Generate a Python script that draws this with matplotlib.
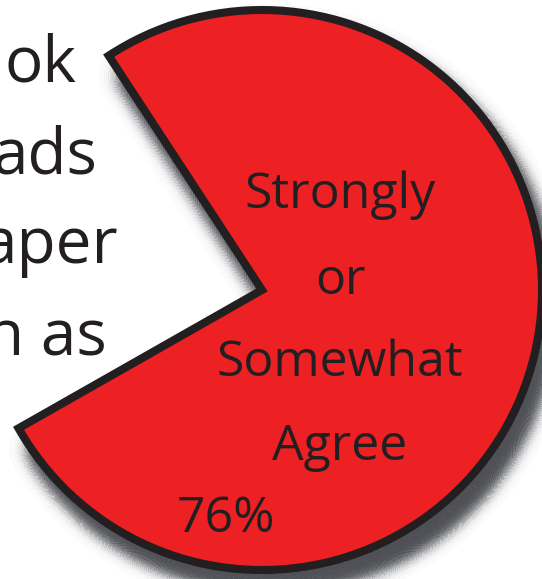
import numpy as np
import matplotlib
matplotlib.use("Agg")
import matplotlib.pyplot as plt

# ---- data ----
agree_pct = 76
slice_label_lines = ["Strongly", "or", "Somewhat", "Agree"]
pct_label = f"{agree_pct}%"
side_text_lines = ["ok", "ads", "aper", "n as"]

# ---- style ----
RED = "#ed2024"
DARK = "#231f20"
FONT = "Open Sans"
SHADOW_RGB = (0.30, 0.31, 0.33)
W, H = 542, 579


def gaussian_blur(a, sigma):
    x = np.arange(-int(3 * sigma), int(3 * sigma) + 1)
    k = np.exp(-0.5 * (x / sigma) ** 2)
    k /= k.sum()
    a = np.apply_along_axis(lambda r: np.convolve(r, k, mode="same"), 0, a)
    a = np.apply_along_axis(lambda r: np.convolve(r, k, mode="same"), 1, a)
    return a


fig = plt.figure(figsize=(W / 100, H / 100), dpi=100)
ax = fig.add_axes([0, 0, 1, 1])

cx, cy = 262, H - 290
R = 280
start = 209.6

wedges, _ = ax.pie([agree_pct / 100], normalize=False, startangle=start, radius=R,
                   center=(cx, cy), colors=[RED],
                   wedgeprops=dict(edgecolor=DARK, linewidth=5.8, joinstyle="miter"))
for w in wedges:
    w.set_zorder(2)

# soft drop shadow derived from the wedge geometry (blurred mask -> filled contours)
dx, dy, sigma = 9, 17, 10
pad = 50
xs = np.arange(-pad, W + pad) + 0.5
ys = np.arange(-pad, H + pad) + 0.5
gx, gy = np.meshgrid(xs, ys)
pts = np.column_stack([(gx - dx).ravel(), (gy + dy).ravel()])
mask = np.zeros(gx.shape)
for w in wedges:
    path = w.get_path().transformed(w.get_patch_transform())
    inside = path.contains_points(pts)
    mask = np.maximum(mask, inside.reshape(gx.shape).astype(float))
shadow_alpha = np.clip(gaussian_blur(mask, sigma), 0, 1)
levels = np.linspace(0.01, 1.001, 50)
mids = 0.5 * (levels[:-1] + levels[1:])
band_colors = [SHADOW_RGB + (float(m),) for m in mids]
ax.contourf(gx, gy, shadow_alpha, levels=levels, colors=band_colors,
            antialiased=False, zorder=1)

ax.set_xlim(0, W)
ax.set_ylim(0, H)
ax.set_aspect("auto")
ax.axis("off")

# slice label
label_baselines = [208, 294, 376, 460]
for line, yb in zip(slice_label_lines, label_baselines):
    ax.text(340, H - yb, line, ha="center", va="baseline", fontsize=36,
            family=FONT, color=DARK, zorder=3)
ax.text(226, H - 532, pct_label, ha="center", va="baseline", fontsize=36,
        family=FONT, color=DARK, zorder=3)

# side text (cut off at left edge, as in the original)
side_right = [77, 97, 118, 107]
side_baselines = [82, 173, 263, 355]
for line, xr, yb in zip(side_text_lines, side_right, side_baselines):
    ax.text(xr, H - yb, line, ha="right", va="baseline", fontsize=46,
            family=FONT, color=DARK, zorder=3)

fig.savefig("out.png", dpi=100)
